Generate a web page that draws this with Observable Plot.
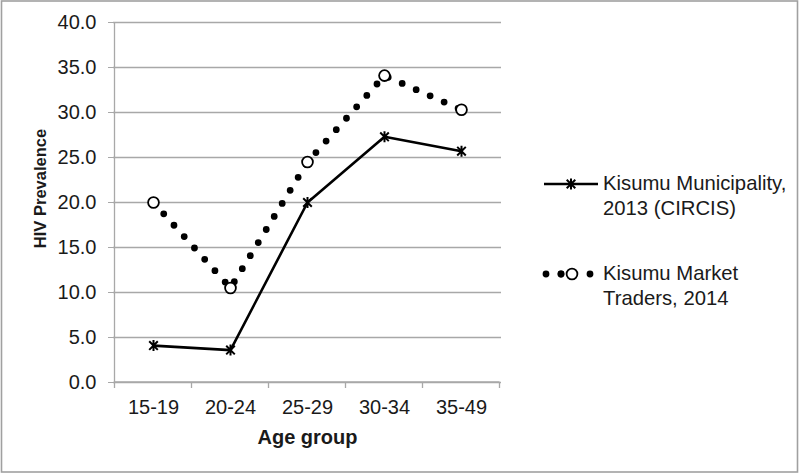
<!DOCTYPE html>
<html>
<head>
<meta charset="utf-8">
<script src="https://cdn.jsdelivr.net/npm/d3@7"></script>
<script src="https://cdn.jsdelivr.net/npm/@observablehq/plot@0.6"></script>
<style>
  body { margin: 0; background: #fff; }
  #wrap { position: relative; width: 800px; height: 474px; overflow: hidden; background: #fff; }
  #wrap > svg { position: absolute; left: 0; top: 0; }
</style>
</head>
<body>
<div id="wrap"></div>
<script>
// ---- data ----
const ageGroups = ["15-19", "20-24", "25-29", "30-34", "35-49"];
const municipality2013 = [4.1, 3.6, 20.0, 27.3, 25.7];
const marketTraders2014 = [20.0, 10.5, 24.5, 34.1, 30.3];
const yTicks = [0, 5, 10, 15, 20, 25, 30, 35, 40];
const legendMunicipality = ["Kisumu Municipality,", "2013 (CIRCIS)"];
const legendTraders = ["Kisumu Market", "Traders, 2014"];
const xTitle = "Age group";
const yTitle = "HIV Prevalence";

const muni = ageGroups.map((a, i) => ({age: a, value: municipality2013[i]}));
const mkt = ageGroups.map((a, i) => ({age: a, value: marketTraders2014[i]}));

const gray = "#a8a8a8";
const ink = "#1a1a1a";
const font = "'Liberation Sans', Arial, sans-serif";

// Excel-like "star" marker: vertical stroke plus an X
const starSymbol = {
  draw(ctx, size) {
    const r = Math.sqrt(size / Math.PI);
    const d = r * 0.78;
    ctx.moveTo(0, -r); ctx.lineTo(0, r);
    ctx.moveTo(-d, -d); ctx.lineTo(d, d);
    ctx.moveTo(-d, d); ctx.lineTo(d, -d);
  }
};

// axis lines + category boundary ticks, derived from the scales
function axisFrame(index, scales) {
  const x = scales.x, y = scales.y;
  const dom = x.domain();
  const step = x(dom[1]) - x(dom[0]);
  const edges = [x(dom[0]) - step / 2, ...dom.map(d => x(d) + step / 2)];
  const [y0v, y1v] = y.domain();
  const g = d3.create("svg:g").attr("stroke", gray).attr("stroke-width", 1.3).attr("fill", "none");
  g.append("line").attr("x1", edges[0]).attr("x2", edges[0]).attr("y1", y(y1v)).attr("y2", y(y0v));
  g.append("line").attr("x1", edges[0]).attr("x2", edges[edges.length - 1]).attr("y1", y(y0v)).attr("y2", y(y0v));
  for (const e of edges) g.append("line").attr("x1", e).attr("x2", e).attr("y1", y(y0v)).attr("y2", y(y0v) + 6);
  return g.node();
}

const chart = Plot.plot({
  width: 800,
  height: 474,
  marginLeft: 113,
  marginRight: 299,
  marginTop: 22,
  marginBottom: 92,
  style: {fontFamily: font, fontSize: "20px", color: ink, background: "transparent"},
  x: {type: "point", domain: ageGroups, padding: 0.5, label: null},
  y: {domain: [0, 40], label: null},
  marks: [
    Plot.gridY(yTicks, {stroke: gray, strokeOpacity: 1, strokeWidth: 1.3}),
    axisFrame,
    Plot.axisX({tickSize: 0, tickPadding: 17, fontSize: 20, label: null, fill: ink}),
    Plot.axisY(yTicks, {tickSize: 5, tickPadding: 12, fontSize: 20, stroke: gray, fill: ink, tickFormat: d => d.toFixed(1), label: null}),
    Plot.text([xTitle], {frameAnchor: "bottom", lineAnchor: "bottom", dy: 61, fontWeight: "bold", fontSize: 20, fill: ink}),
    Plot.text([yTitle], {frameAnchor: "left", textAnchor: "middle", rotate: -90, dx: -73, dy: -14, fontWeight: "bold", fontSize: 16.5, fill: ink}),
    Plot.line(mkt, {x: "age", y: "value", stroke: "#000", strokeWidth: 6.8, strokeDasharray: "0 15.3", strokeLinecap: "round"}),
    Plot.line(muni, {x: "age", y: "value", stroke: "#000", strokeWidth: 2.6}),
    Plot.dot(mkt, {x: "age", y: "value", r: 5.4, fill: "#fff", stroke: "#000", strokeWidth: 1.8}),
    Plot.dot(muni, {x: "age", y: "value", r: 5.5, symbol: starSymbol, stroke: "#000", strokeWidth: 2})
  ]
});

const wrap = document.getElementById("wrap");
wrap.appendChild(chart);

// overlay: outer border + legend
const ov = d3.select(wrap).append("svg")
  .attr("width", 800).attr("height", 474)
  .style("font-family", font);

ov.append("rect").attr("x", 1.5).attr("y", 1).attr("width", 796).attr("height", 471)
  .attr("fill", "none").attr("stroke", "#a0a0a0").attr("stroke-width", 1.6);

const legendSize = 20.3;
// legend entry 1
ov.append("line").attr("x1", 544).attr("x2", 598).attr("y1", 184).attr("y2", 184)
  .attr("stroke", "#000").attr("stroke-width", 2.6);
ov.append("path").attr("transform", "translate(571,184)")
  .attr("d", d3.symbol(starSymbol, Math.PI * 5.5 * 5.5)())
  .attr("stroke", "#000").attr("stroke-width", 2).attr("fill", "none");
ov.append("text").attr("x", 603).attr("y", 189.5).attr("font-size", legendSize).attr("fill", ink).text(legendMunicipality[0]);
ov.append("text").attr("x", 603).attr("y", 214.5).attr("font-size", legendSize).attr("fill", ink).text(legendMunicipality[1]);

// legend entry 2
ov.append("line").attr("x1", 546).attr("x2", 591).attr("y1", 274).attr("y2", 274)
  .attr("stroke", "#000").attr("stroke-width", 6.8).attr("stroke-linecap", "round")
  .attr("stroke-dasharray", "0 15 0 29");
ov.append("line").attr("x1", 561).attr("x2", 561).attr("y1", 274).attr("y2", 274)
  .attr("stroke", "#000").attr("stroke-width", 6.8).attr("stroke-linecap", "round");
ov.append("circle").attr("cx", 572).attr("cy", 274).attr("r", 5.4)
  .attr("fill", "#fff").attr("stroke", "#000").attr("stroke-width", 1.8);
ov.append("text").attr("x", 603).attr("y", 280).attr("font-size", legendSize).attr("fill", ink).text(legendTraders[0]);
ov.append("text").attr("x", 603).attr("y", 305).attr("font-size", legendSize).attr("fill", ink).text(legendTraders[1]);
</script>
</body>
</html>
